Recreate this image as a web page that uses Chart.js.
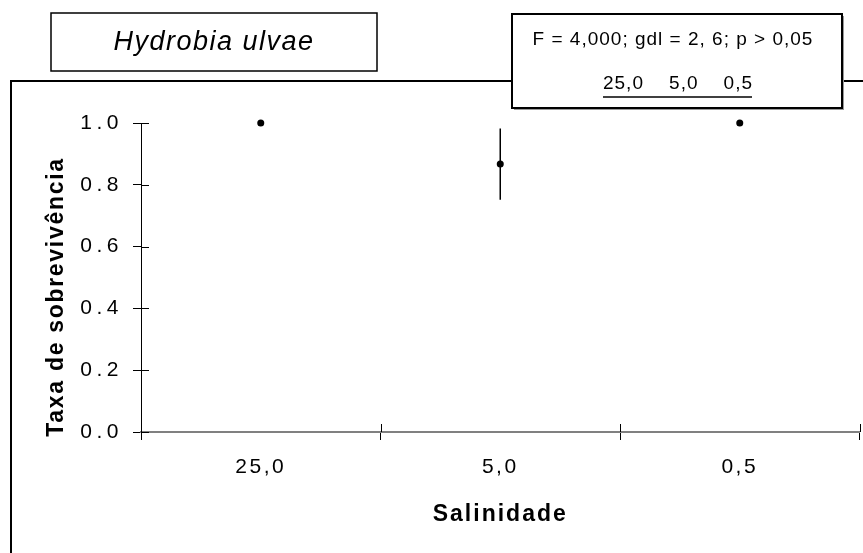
<!DOCTYPE html>
<html>
<head>
<meta charset="utf-8">
<script src="https://cdn.jsdelivr.net/npm/chart.js@4/dist/chart.umd.min.js"></script>
<style>
  html, body { margin: 0; padding: 0; background: #fff; }
  #wrap { position: relative; width: 863px; height: 553px; }
</style>
</head>
<body>
<div id="wrap"><canvas id="grafico"></canvas></div>
<script>
// salinidades testadas e taxa média de sobrevivência (com desvio)
const salinidades = ["25,0", "5,0", "0,5"];
const sobrevivencia = [1.0, 0.867, 1.0];
const desvio = [0, 0.115, 0];
const yTicks = [0, 0.2, 0.4, 0.6, 0.8, 1.0];

const especie = "Hydrobia ulvae";
const estatistica = "F = 4,000; gdl = 2, 6; p > 0,05";
const grupos = ["25,0", "5,0", "0,5"];

const FONTE = '"Liberation Sans", Arial, sans-serif';

// espaçamento entre letras por eixo
const espacamento = { x: "2.5px", y: "4.5px" };

// moldura, caixas de texto e marcas de escala que cruzam os eixos
const extrasPlugin = {
    id: "extras",
    afterUpdate(chart) {
        // cada eixo desenha os seus rótulos com o seu próprio espaçamento
        Object.keys(espacamento).forEach(id => {
            const scale = chart.scales[id];
            if (!scale || scale._comEspaco) return;
            const orig = scale.drawLabels;
            scale.drawLabels = function (area) {
                const ctx = this.ctx;
                const antes = ctx.letterSpacing;
                ctx.letterSpacing = espacamento[id];
                orig.call(this, area);
                ctx.letterSpacing = antes;
            };
            const origTitulo = scale.drawTitle;
            scale.drawTitle = function () {
                const ctx = this.ctx;
                const antes = ctx.letterSpacing;
                ctx.letterSpacing = "2px";
                origTitulo.call(this);
                ctx.letterSpacing = antes;
            };
            scale._comEspaco = true;
        });
    },
    beforeDraw(chart) {
        const ctx = chart.ctx;
        ctx.save();
        ctx.fillStyle = "#fff";
        ctx.fillRect(0, 0, chart.width, chart.height);
        ctx.strokeStyle = "#000";
        ctx.lineWidth = 2;
        ctx.beginPath();
        ctx.moveTo(chart.width, 81);
        ctx.lineTo(11, 81);
        ctx.lineTo(11, chart.height);
        ctx.stroke();
        ctx.restore();
    },
    afterDraw(chart) {
        const ctx = chart.ctx;
        const area = chart.chartArea;
        const xs = chart.scales.x;
        const ys = chart.scales.y;
        ctx.save();
        ctx.letterSpacing = "0px";

        // metade interna das marcas de escala
        ctx.strokeStyle = "#000";
        ctx.lineWidth = 1;
        ctx.beginPath();
        yTicks.forEach(v => {
            const py = Math.round(ys.getPixelForValue(v)) + 0.5;
            ctx.moveTo(area.left, py);
            ctx.lineTo(area.left + 8, py);
        });
        for (let i = 0; i <= salinidades.length; i++) {
            const px = Math.round(xs.getPixelForValue(i - 0.5)) + 0.5;
            ctx.moveTo(px, area.bottom);
            ctx.lineTo(px, area.bottom - 8);
        }
        ctx.stroke();

        // título do eixo y
        ctx.save();
        ctx.translate(57, 297);
        ctx.rotate(-Math.PI / 2);
        ctx.letterSpacing = "1.7px";
        ctx.font = "bold 23px " + FONTE;
        ctx.fillStyle = "#000";
        ctx.textAlign = "center";
        ctx.textBaseline = "middle";
        ctx.fillText("Taxa de sobrevivência", 0, 0);
        ctx.restore();

        // caixa com o nome da espécie
        ctx.fillStyle = "#fff";
        ctx.fillRect(51, 13, 326, 58);
        ctx.lineWidth = 1.5;
        ctx.strokeRect(51, 13, 326, 58);
        ctx.letterSpacing = "1.5px";
        ctx.font = "italic 27px " + FONTE;
        ctx.fillStyle = "#000";
        ctx.textAlign = "center";
        ctx.textBaseline = "middle";
        ctx.fillText(especie, 214, 42);

        // caixa com o resultado da ANOVA
        ctx.fillStyle = "#999";
        ctx.fillRect(514, 16, 330, 94);
        ctx.fillStyle = "#fff";
        ctx.fillRect(512, 14, 330, 94);
        ctx.lineWidth = 2;
        ctx.strokeRect(512, 14, 330, 94);
        ctx.letterSpacing = "1px";
        ctx.font = "19px " + FONTE;
        ctx.fillStyle = "#000";
        ctx.fillText(estatistica, 673, 40);
        const linha = grupos.join("    ");
        ctx.fillText(linha, 678, 84);
        const larg = ctx.measureText(linha).width - 1;
        ctx.lineWidth = 1.5;
        ctx.beginPath();
        ctx.moveTo(677.5 - larg / 2, 97);
        ctx.lineTo(677.5 + larg / 2, 97);
        ctx.stroke();
        ctx.restore();
    }
};

// barras de erro (desvio padrão) sem remates
const barrasErroPlugin = {
    id: "barrasErro",
    beforeDatasetsDraw(chart) {
        const ctx = chart.ctx;
        const xs = chart.scales.x;
        const ys = chart.scales.y;
        ctx.save();
        ctx.strokeStyle = "#000";
        ctx.lineWidth = 1.5;
        sobrevivencia.forEach((m, i) => {
            if (!desvio[i]) return;
            const px = xs.getPixelForValue(i);
            ctx.beginPath();
            ctx.moveTo(px, ys.getPixelForValue(m + desvio[i]));
            ctx.lineTo(px, ys.getPixelForValue(m - desvio[i]));
            ctx.stroke();
        });
        ctx.restore();
    }
};

new Chart(document.getElementById("grafico"), {
    type: "line",
    data: {
        labels: salinidades,
        datasets: [{
            data: sobrevivencia,
            showLine: false,
            pointRadius: 3.5,
            pointHoverRadius: 3.5,
            pointBackgroundColor: "#000",
            pointBorderWidth: 0,
            borderColor: "#000",
            clip: false
        }]
    },
    plugins: [extrasPlugin, barrasErroPlugin],
    options: {
        responsive: true,
        maintainAspectRatio: false,
        animation: false,
        layout: { padding: { top: 123, right: 3, bottom: 0, left: 20 } },
        plugins: {
            legend: { display: false },
            tooltip: { enabled: false }
        },
        scales: {
            x: {
                type: "category",
                offset: true,
                afterFit(scale) { scale.height = 121; },
                grid: {
                    offset: true,
                    drawOnChartArea: false,
                    drawTicks: true,
                    tickLength: 8,
                    color: "#000",
                    lineWidth: 1
                },
                border: { display: true, color: "#808080", width: 2 },
                ticks: {
                    color: "#000",
                    font: { family: FONTE, size: 21 },
                    padding: 15,
                    maxRotation: 0
                },
                title: {
                    display: true,
                    text: "Salinidade",
                    color: "#000",
                    font: { family: FONTE, size: 23, weight: "bold" },
                    padding: { top: 0, bottom: 25 }
                }
            },
            y: {
                min: 0,
                max: 1,
                afterFit(scale) { scale.width = 121; },
                afterBuildTicks(scale) {
                    scale.ticks = yTicks.map(v => ({ value: v }));
                },
                grid: {
                    drawOnChartArea: false,
                    drawTicks: true,
                    tickLength: 8,
                    color: "#000",
                    lineWidth: 1
                },
                border: { display: true, color: "#000", width: 1 },
                ticks: {
                    color: "#000",
                    font: { family: FONTE, size: 21 },
                    padding: 10,
                    callback: v => v.toFixed(1)
                },
                title: { display: false }
            }
        }
    }
});
</script>
</body>
</html>
